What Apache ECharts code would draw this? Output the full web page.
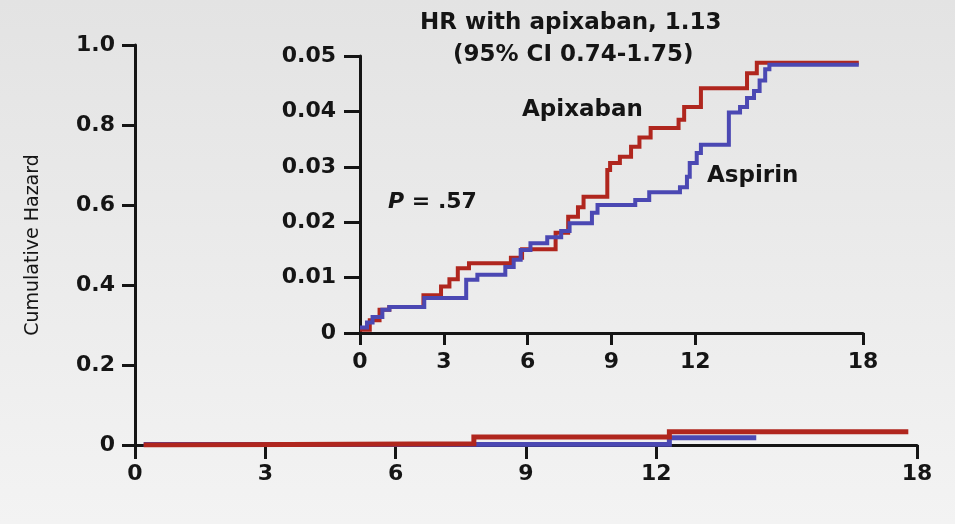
<!DOCTYPE html>
<html>
<head>
<meta charset="utf-8">
<script src="https://cdn.jsdelivr.net/npm/echarts@6/dist/echarts.min.js"></script>
<style>
html,body{margin:0;padding:0;width:955px;height:524px;overflow:hidden;}
#c{width:955px;height:524px;}
</style>
</head>
<body>
<div id="c"></div>
<script>
// ---- data ----
var monthTicks = [0, 3, 6, 9, 12, 18];
var mainYTicks = [0, 0.2, 0.4, 0.6, 0.8, 1.0];
var insetYTicks = [0, 0.01, 0.02, 0.03, 0.04, 0.05];

// Main panel (cumulative hazard, months)
var mainApixaban = [[0.2,0],[0.7,0.003],[7.8,0.02],[12.3,0.033],[17.8,0.033]];
var mainAspirin  = [[0.2,0.001],[0.7,0.002],[12.3,0.018],[14.3,0.018]];

// Inset panel
var insetApixaban = [[0,0.0006],[0.35,0.0023],[0.7,0.0042],[1.05,0.0047],[2.27,0.0068],[2.9,0.0084],[3.2,0.0097],[3.5,0.0117],[3.9,0.0126],[5.4,0.0136],[5.8,0.0151],[7.0,0.0181],[7.45,0.0210],[7.8,0.0227],[8.0,0.0246],[8.85,0.0294],[8.95,0.0307],[9.3,0.0318],[9.7,0.0336],[10.0,0.0353],[10.4,0.0370],[11.4,0.0385],[11.6,0.0408],[12.2,0.0442],[13.85,0.0469],[14.2,0.0488],[17.85,0.0488]];
var insetAspirin = [[0,0.0010],[0.25,0.0019],[0.45,0.0029],[0.8,0.0042],[1.05,0.0047],[2.3,0.0063],[3.8,0.0096],[4.2,0.0105],[5.2,0.0119],[5.5,0.0132],[5.75,0.0150],[6.1,0.0162],[6.7,0.0173],[7.2,0.0184],[7.5,0.0198],[8.3,0.0217],[8.5,0.0231],[9.85,0.0240],[10.35,0.0254],[11.45,0.0263],[11.7,0.0282],[11.8,0.0307],[12.05,0.0325],[12.2,0.0340],[13.2,0.0398],[13.6,0.0408],[13.85,0.0424],[14.1,0.0437],[14.3,0.0456],[14.5,0.0476],[14.65,0.0484],[17.85,0.0484]];

// whole months 0..18: slots of the visible month axis (ticks/labels only at monthTicks)
var monthSlots = [];
for (var m = 0; m <= 18; m++) monthSlots.push(String(m));

var RED = '#b0261e', BLUE = '#4b48b3', INK = '#151515';
var FONT = '"DejaVu Sans", sans-serif';

function isTick(idx, val){ return monthTicks.indexOf(Number(val)) >= 0; }

// visible month axis (bottom): line, ticks, labels
function xVisibleAxis(gi, tickLen){
  return {
    type:'category', gridIndex:gi, data:monthSlots, boundaryGap:false, position:'bottom',
    axisLine:{show:true, lineStyle:{color:INK, width:3}},
    axisTick:{show:true, length:tickLen, interval:isTick, lineStyle:{color:INK, width:3}},
    axisLabel:{show:true, interval:isTick, color:INK, fontFamily:FONT, fontWeight:'bold', fontSize:22, margin:18},
    splitLine:{show:false}
  };
}
// numeric month axis used by the series (same extent, hidden)
function xValueAxis(gi){
  return {type:'value', gridIndex:gi, min:0, max:18, position:'top', show:false,
    axisLine:{show:false}, axisTick:{show:false}, axisLabel:{show:false}, splitLine:{show:false}};
}
function yAxisCfg(gi, ticks, dec, tickLen, margin, extra){
  var c = {
    type:'value', gridIndex:gi, min:0, max:ticks[ticks.length-1], interval:ticks[1],
    axisLine:{show:true, lineStyle:{color:INK, width:3}},
    axisTick:{show:true, length:tickLen, lineStyle:{color:INK, width:3}},
    axisLabel:{show:true, color:INK, fontFamily:FONT, fontWeight:'bold', fontSize:22, margin:margin,
      formatter:function(v){ return v===0 ? '0' : v.toFixed(dec); }},
    splitLine:{show:false}
  };
  for (var k in extra) c[k] = extra[k];
  return c;
}
function lineSeries(name, data, color, xi, yi, w){
  return {name:name, type:'line', xAxisIndex:xi, yAxisIndex:yi, step:'end', data:data,
    showSymbol:false, symbol:'none', animation:false,
    lineStyle:{color:color, width:w, cap:'butt', join:'miter'}};
}

var chart = echarts.init(document.getElementById('c'), null, {renderer:'canvas'});
chart.setOption({
  animation:false,
  backgroundColor:{type:'linear', x:0, y:0, x2:0, y2:1,
    colorStops:[{offset:0,color:'#e3e3e3'},{offset:1,color:'#f3f3f3'}]},
  grid:[
    {left:135, right:38, top:45, bottom:79},
    {left:360, right:92, top:56, bottom:191}
  ],
  xAxis:[xVisibleAxis(0, 14), xValueAxis(0), xVisibleAxis(1, 12), xValueAxis(1)],
  yAxis:[
    yAxisCfg(0, mainYTicks, 1, 13, 20, {name:'Cumulative Hazard', nameLocation:'middle', nameRotate:90, nameGap:92,
      nameTextStyle:{color:INK, fontFamily:FONT, fontSize:19, fontWeight:'normal'}}),
    yAxisCfg(1, insetYTicks, 2, 16, 24, {})
  ],
  series:[
    lineSeries('Aspirin', mainAspirin, BLUE, 1, 0, 5),
    lineSeries('Apixaban', mainApixaban, RED, 1, 0, 5),
    lineSeries('Apixaban', insetApixaban, RED, 3, 1, 4),
    lineSeries('Aspirin', insetAspirin, BLUE, 3, 1, 4)
  ],
  graphic:[
    {type:'text', style:{text:'HR with apixaban, 1.13', font:'bold 23px '+FONT, fill:INK, textAlign:'left', textVerticalAlign:'middle', x:420, y:23}},
    {type:'text', style:{text:'(95% CI 0.74-1.75)', font:'bold 23px '+FONT, fill:INK, textAlign:'left', textVerticalAlign:'middle', x:453, y:55}},
    {type:'text', style:{text:'Apixaban', font:'bold 23px '+FONT, fill:INK, textAlign:'left', textVerticalAlign:'middle', x:522, y:110}},
    {type:'text', style:{text:'Aspirin', font:'bold 23px '+FONT, fill:INK, textAlign:'left', textVerticalAlign:'middle', x:707, y:176}},
    {type:'text', style:{text:'{i|P} = .57', font:'bold 22px '+FONT, fill:INK, textAlign:'left', textVerticalAlign:'middle', x:388, y:202,
      rich:{i:{fontStyle:'italic', fontWeight:'bold', fontSize:22, fontFamily:FONT, fill:INK}}}}
  ]
});
</script>
</body>
</html>
